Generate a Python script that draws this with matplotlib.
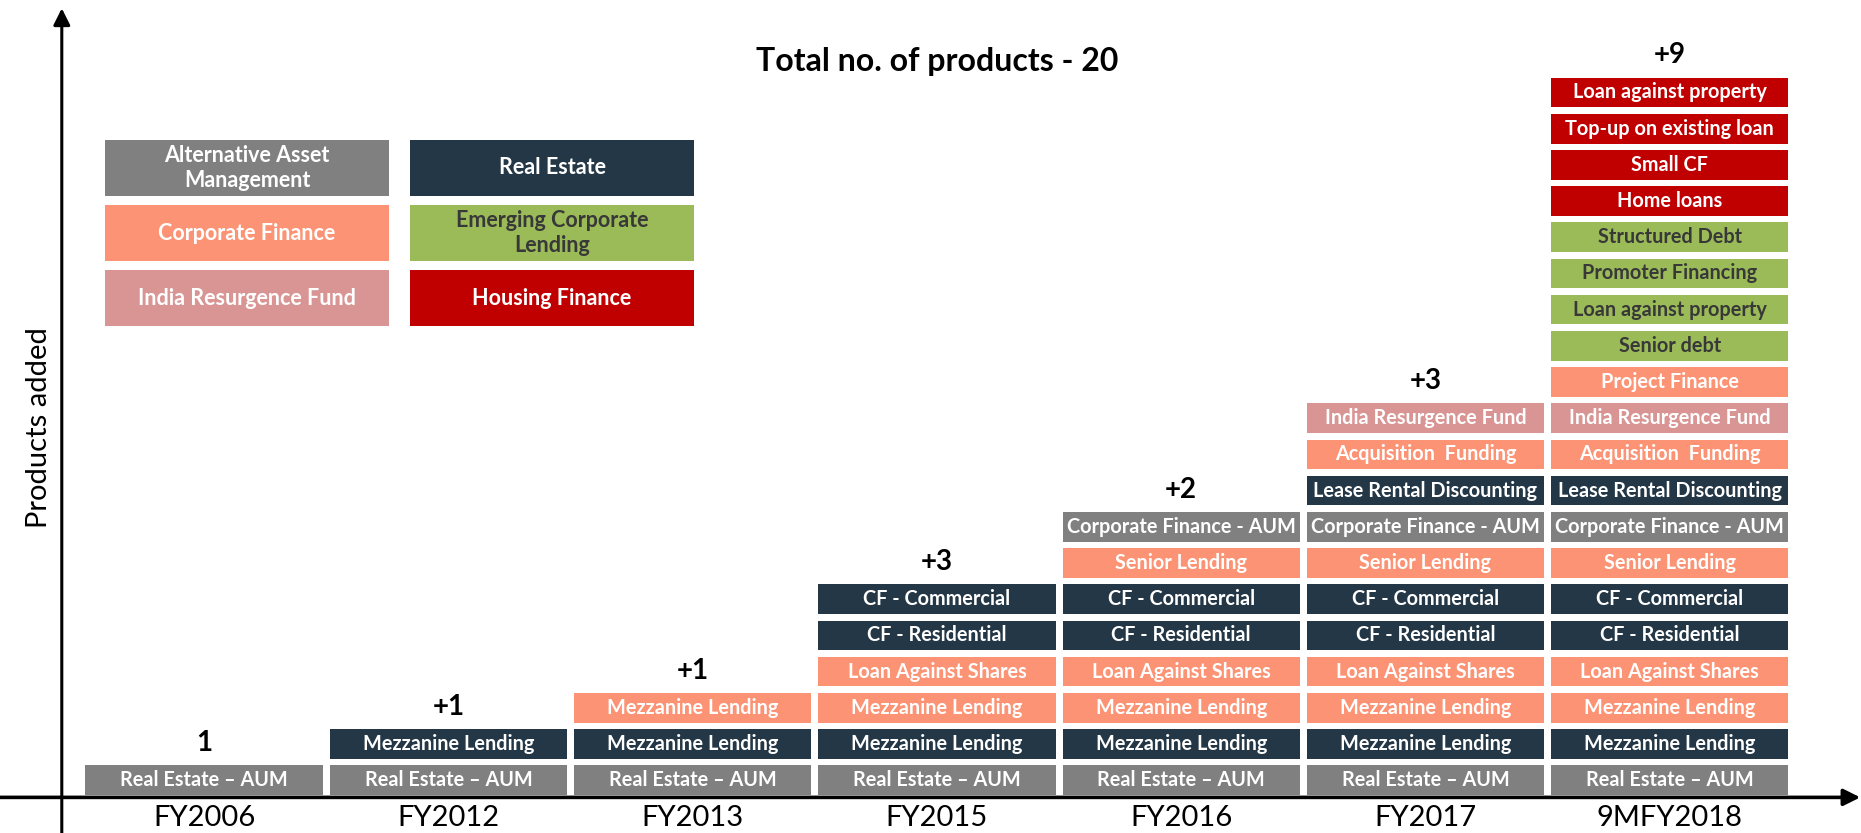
import matplotlib
matplotlib.use("Agg")
import matplotlib.pyplot as plt
from matplotlib.patches import Rectangle

# periods on the x axis and how many products exist at each
periods = ["FY2006", "FY2012", "FY2013", "FY2015", "FY2016", "FY2017", "9MFY2018"]
cumulative = [1, 2, 3, 6, 8, 11, 20]

# products in the order they were added (bottom to top)
products = [
    "Real Estate – AUM", "Mezzanine Lending", "Mezzanine Lending",
    "Loan Against Shares", "CF - Residential", "CF - Commercial",
    "Senior Lending", "Corporate Finance - AUM",
    "Lease Rental Discounting", "Acquisition  Funding", "India Resurgence Fund",
    "Project Finance", "Senior debt", "Loan against property",
    "Promoter Financing", "Structured Debt", "Home loans", "Small CF",
    "Top-up on existing loan", "Loan against property",
]
product_business = [
    "AAM", "RE", "CF", "CF", "RE", "RE", "CF", "AAM", "RE", "CF", "IRF",
    "CF", "ECL", "ECL", "ECL", "ECL", "HF", "HF", "HF", "HF",
]

# business lines (legend)
business_keys = ["AAM", "CF", "IRF", "RE", "ECL", "HF"]
business_names = ["Alternative Asset\nManagement", "Corporate Finance",
                  "India Resurgence Fund", "Real Estate",
                  "Emerging Corporate\nLending", "Housing Finance"]

fill = {"AAM": "#808080", "RE": "#243746", "CF": "#FC9374",
        "IRF": "#D99594", "ECL": "#9BBB59", "HF": "#C00000"}
ink = {"AAM": "white", "RE": "white", "CF": "white",
       "IRF": "white", "ECL": "#383838", "HF": "white"}

FONT = ["Lato", "DejaVu Sans"]

fig = plt.figure(figsize=(18.61, 8.33), dpi=100)
ax = fig.add_axes([0, 0, 1, 1])
ax.set_xlim(-0.836, 6.783)
ax.set_ylim(-0.984, 22.03)
ax.axis("off")

# axes with arrow heads
ax.annotate("", xy=(6.78, 0), xytext=(-0.836, 0),
            arrowprops=dict(arrowstyle="-|>", color="black", lw=2.6,
                            mutation_scale=25, shrinkA=0, shrinkB=0))
ax.annotate("", xy=(-0.583, 21.8), xytext=(-0.583, -0.984),
            arrowprops=dict(arrowstyle="-|>", color="black", lw=2.2,
                            mutation_scale=25, shrinkA=0, shrinkB=0))

bw, bh = 0.972, 0.82
prev = 0
for i, (period, n) in enumerate(zip(periods, cumulative)):
    for j in range(n):
        key = product_business[j]
        ax.add_patch(Rectangle((i - bw / 2, j + 0.065), bw, bh,
                               facecolor=fill[key], edgecolor="none"))
        ax.text(i, j + 0.475, products[j], ha="center", va="center",
                color=ink[key], fontsize=14.3, fontweight="bold", family=FONT)
    added = str(n) if i == 0 else f"+{n - prev}"
    ax.text(i, n + 0.5, added, ha="center", va="center", fontsize=20,
            fontweight="bold", family=FONT)
    ax.text(i, -0.58, period, ha="center", va="center", fontsize=21,
            family=FONT)
    prev = n

# legend boxes
for k, (key, name) in enumerate(zip(business_keys, business_names)):
    col, row = divmod(k, 3)
    x0 = -0.408 + col * 1.249
    y_top = 18.16 - row * 1.8
    ax.add_patch(Rectangle((x0, y_top - 1.54), 1.166, 1.54,
                           facecolor=fill[key], edgecolor="none"))
    ax.text(x0 + 0.583, y_top - 0.77, name, ha="center", va="center",
            color=ink[key], fontsize=15.5, fontweight="bold", family=FONT,
            linespacing=1.2)

ax.text(3.0, 20.33, "Total no. of products - 20", ha="center", va="center",
        fontsize=23, fontweight="bold", family=FONT)
ax.text(-0.676, 10.23, "Products added", rotation=90, ha="center",
        va="center", fontsize=21, family=FONT)

fig.savefig("out.png", dpi=100)
